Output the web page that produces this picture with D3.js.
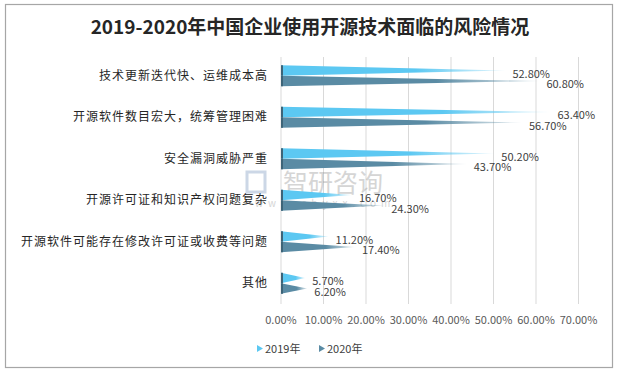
<!DOCTYPE html>
<html lang="zh">
<head>
<meta charset="utf-8">
<script src="https://d3js.org/d3.v7.min.js"></script>
<style>
  body { margin: 0; background: #fff; }
  text { font-family: "Noto Sans CJK SC", "Noto Sans", sans-serif; }
</style>
</head>
<body>
<script>
// data
const categories = ["技术更新迭代快、运维成本高", "开源软件数目宏大，统筹管理困难", "安全漏洞威胁严重",
  "开源许可证和知识产权问题复杂", "开源软件可能存在修改许可证或收费等问题", "其他"];
const seriesNames = ["2019年", "2020年"];
const values2019 = [0.528, 0.634, 0.502, 0.167, 0.112, 0.057];
const values2020 = [0.608, 0.567, 0.437, 0.243, 0.174, 0.062];
const xTicks = [0, 0.1, 0.2, 0.3, 0.4, 0.5, 0.6, 0.7];
const colours = ["#5cc8f2", "#5a8ba4"];

const width = 620, height = 375;
const svg = d3.select("body").append("svg")
  .attr("width", width).attr("height", height);

// outer frame
svg.append("rect").attr("x", 5.5).attr("y", 4.5).attr("width", 607).attr("height", 363)
  .attr("fill", "#fff").attr("stroke", "#a6a6a6").attr("stroke-width", 1.2);

// title
svg.append("text").attr("x", 310).attr("y", 34).attr("text-anchor", "middle")
  .attr("font-size", 19).attr("font-weight", "bold").attr("fill", "#262626")
  .text("2019-2020年中国企业使用开源技术面临的风险情况");

const x = d3.scaleLinear().domain([0, 0.7]).range([281, 578.5]);
const y = d3.scaleBand().domain(categories).range([55, 304]);
const inner = d3.scaleBand().domain(seriesNames).range([0, 21]);

// gradients
const defs = svg.append("defs");
colours.forEach((c, i) => {
  const g = defs.append("linearGradient").attr("id", "grad" + i)
    .attr("x1", 0).attr("x2", 1).attr("y1", 0).attr("y2", 0);
  g.append("stop").attr("offset", "0%").attr("stop-color", c);
  g.append("stop").attr("offset", "60%").attr("stop-color", c);
  g.append("stop").attr("offset", "100%").attr("stop-color", c).attr("stop-opacity", 0.15);
});

// grid lines
svg.append("g").selectAll("line").data(xTicks).join("line")
  .attr("x1", d => x(d)).attr("x2", d => x(d))
  .attr("y1", 57).attr("y2", 304)
  .attr("stroke", "#d9d9d9").attr("stroke-width", 1);

// tick labels
svg.append("g").selectAll("text").data(xTicks).join("text")
  .attr("x", d => x(d)).attr("y", 324).attr("text-anchor", "middle")
  .attr("font-size", 11).attr("fill", "#595959")
  .text(d => d3.format(".2%")(d));

// category labels
svg.append("g").selectAll("text").data(categories).join("text")
  .attr("x", 268).attr("y", d => y(d) + y.bandwidth() / 2 + 4)
  .attr("text-anchor", "end").attr("font-size", 12).attr("letter-spacing", 1)
  .attr("fill", "#262626")
  .text(d => d);

// watermark
const wm = svg.append("g").attr("opacity", 0.35);
wm.append("rect").attr("x", 247).attr("y", 172).attr("width", 18).attr("height", 20)
  .attr("fill", "none").attr("stroke", "#6f8fb8").attr("stroke-width", 3);
wm.append("text").attr("x", 283).attr("y", 192).attr("font-size", 25).attr("fill", "#888")
  .text("智研咨询");
wm.append("text").attr("x", 255).attr("y", 207).attr("font-size", 10).attr("fill", "#888")
  .attr("letter-spacing", 5).text("www.chyxx.com");

// bars
const series = [values2019, values2020];
const bars = svg.append("g");
series.forEach((vals, i) => {
  const rows = categories.map((c, k) => ({ c, v: vals[k] }));
  const top = d => y(d.c) + y.bandwidth() / 2 - 10.5 + inner(seriesNames[i]);
  const h = inner.bandwidth();
  bars.append("g").selectAll("path").data(rows).join("path")
    .attr("d", d => `M${x(0)},${top(d)}L${x(d.v)},${top(d) + h / 2}L${x(0)},${top(d) + h}Z`)
    .attr("fill", `url(#grad${i})`);
  bars.append("g").selectAll("rect").data(rows).join("rect")
    .attr("x", x(0)).attr("y", d => top(d)).attr("width", 2).attr("height", h)
    .attr("fill", "#3d6478");
  bars.append("g").selectAll("text").data(rows).join("text")
    .attr("x", d => x(d.v) + 7).attr("y", d => top(d) + h / 2 + 7)
    .attr("font-size", 11).attr("fill", "#404040")
    .text(d => d3.format(".2%")(d.v));
});

// legend
const legend = svg.append("g");
const lx = [257, 319];
seriesNames.forEach((s, i) => {
  legend.append("path")
    .attr("d", `M${lx[i]},345L${lx[i] + 6},348.5L${lx[i]},352Z`)
    .attr("fill", colours[i]);
  legend.append("text").attr("x", lx[i] + 8).attr("y", 353)
    .attr("font-size", 11).attr("fill", "#404040").text(s);
});
</script>
</body>
</html>
